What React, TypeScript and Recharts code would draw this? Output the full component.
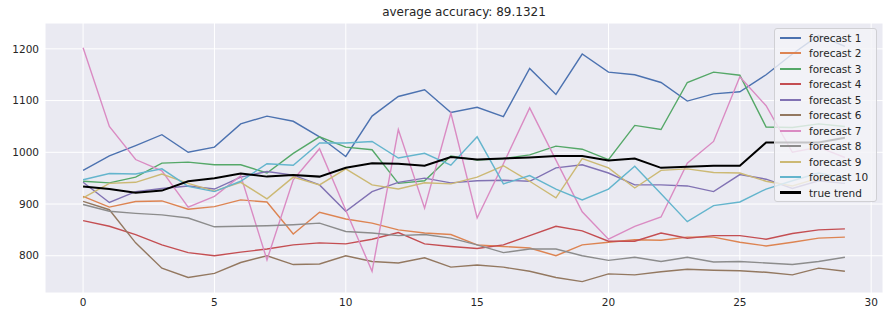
import React from 'react';
import { LineChart, Line, XAxis, YAxis, CartesianGrid, Legend } from 'recharts';

const steps = [0, 1, 2, 3, 4, 5, 6, 7, 8, 9, 10, 11, 12, 13, 14, 15, 16, 17, 18, 19, 20, 21, 22, 23, 24, 25, 26, 27, 28, 29];

const forecast1 = [965, 993, 1013, 1034, 1000, 1010, 1055, 1070, 1060, 1030, 992, 1070, 1108, 1121, 1077, 1087, 1069, 1162, 1112, 1190, 1155, 1150, 1135, 1099, 1113, 1117, 1150, 1190, 1226, 1205];
const forecast2 = [915, 894, 905, 906, 890, 895, 908, 904, 842, 884, 871, 863, 850, 844, 841, 821, 818, 815, 800, 821, 826, 831, 830, 836, 836, 826, 819, 826, 834, 836];
const forecast3 = [944, 941, 952, 979, 981, 976, 976, 960, 998, 1030, 1010, 1005, 940, 945, 993, 985, 988, 995, 1012, 1006, 986, 1052, 1044, 1135, 1155, 1149, 1049, 1048, 1055, 1050];
const forecast4 = [868, 857, 841, 821, 806, 800, 807, 813, 821, 825, 823, 832, 845, 823, 818, 814, 821, 839, 857, 848, 828, 828, 844, 834, 839, 839, 832, 843, 850, 852];
const forecast5 = [942, 903, 924, 930, 935, 929, 952, 963, 956, 937, 886, 924, 942, 950, 941, 945, 946, 944, 970, 976, 960, 937, 937, 935, 924, 957, 948, 930, 945, 940];
const forecast6 = [905, 889, 825, 776, 758, 766, 787, 800, 783, 784, 800, 789, 786, 796, 778, 782, 778, 770, 758, 750, 765, 763, 769, 774, 772, 771, 768, 763, 776, 770];
const forecast7 = [1202, 1050, 986, 964, 894, 915, 955, 792, 947, 1007, 888, 770, 1044, 892, 1076, 873, 978, 1086, 985, 885, 832, 857, 875, 979, 1021, 1146, 1090, 1000, 1010, 990];
const forecast8 = [899, 886, 882, 879, 873, 856, 857, 858, 860, 863, 847, 844, 839, 841, 834, 821, 806, 813, 813, 800, 791, 797, 789, 797, 788, 789, 786, 783, 789, 797];
const forecast9 = [912, 940, 942, 958, 940, 925, 942, 910, 952, 937, 968, 937, 929, 941, 939, 952, 974, 944, 912, 988, 970, 931, 965, 968, 961, 960, 944, 935, 950, 945];
const forecast10 = [947, 959, 958, 968, 934, 924, 944, 978, 975, 1018, 1018, 1021, 989, 998, 975, 1030, 939, 955, 929, 908, 929, 973, 920, 866, 897, 904, 929, 945, 960, 950];
const trueTrend = [934, 929, 922, 926, 944, 950, 959, 953, 956, 953, 970, 979, 978, 974, 991, 986, 988, 990, 993, 993, 984, 988, 970, 972, 974, 974, 1019, 1019, 1019, 1028];

const xTicks = [0, 5, 10, 15, 20, 25, 30];
const yTicks = [800, 900, 1000, 1100, 1200];

const seriesList = [
  { key: 'f1', name: 'forecast 1', values: forecast1, color: '#4C72B0' },
  { key: 'f2', name: 'forecast 2', values: forecast2, color: '#DD8452' },
  { key: 'f3', name: 'forecast 3', values: forecast3, color: '#55A868' },
  { key: 'f4', name: 'forecast 4', values: forecast4, color: '#C44E52' },
  { key: 'f5', name: 'forecast 5', values: forecast5, color: '#8172B3' },
  { key: 'f6', name: 'forecast 6', values: forecast6, color: '#937860' },
  { key: 'f7', name: 'forecast 7', values: forecast7, color: '#DA8BC3' },
  { key: 'f8', name: 'forecast 8', values: forecast8, color: '#8C8C8C' },
  { key: 'f9', name: 'forecast 9', values: forecast9, color: '#CCB974' },
  { key: 'f10', name: 'forecast 10', values: forecast10, color: '#64B5CD' },
  { key: 'truth', name: 'true trend', values: trueTrend, color: '#000000' },
];

const chartData = steps.map((s, i) => {
  const row: Record<string, number> = { step: s };
  seriesList.forEach((sr) => {
    row[sr.key] = sr.values[i];
  });
  return row;
});

const font = '"DejaVu Sans", sans-serif';

function LegendBox() {
  return (
    <div
      style={{
        boxSizing: 'border-box',
        width: 103,
        height: 174,
        background: 'rgba(244,244,248,0.8)',
        border: '1px solid #d0d0d4',
        borderRadius: 3,
        paddingTop: 1,
        fontFamily: font,
        fontSize: 10.5,
        color: '#262626',
      }}
    >
      {seriesList.map((sr) => (
        <div key={sr.key} style={{ display: 'flex', alignItems: 'center', height: 15.5 }}>
          <div
            style={{
              marginLeft: 5,
              width: 21,
              height: sr.key === 'truth' ? 3 : 2,
              background: sr.color,
            }}
          />
          <span style={{ marginLeft: 8, whiteSpace: 'nowrap' }}>{sr.name}</span>
        </div>
      ))}
    </div>
  );
}

export default function App() {
  return (
    <div style={{ position: 'absolute', left: 0, top: 0, width: 888, height: 321, background: '#fff' }}>
      <div
        style={{
          position: 'absolute',
          left: 45,
          top: 5,
          width: 838,
          textAlign: 'center',
          fontFamily: font,
          fontSize: 12,
          lineHeight: '14px',
          color: '#262626',
        }}
      >
        average accuracy: 89.1321
      </div>
      <LineChart width={888} height={321} data={chartData} margin={{ top: 23, right: 5, left: 0, bottom: 0 }}>
        <CartesianGrid fill="#EAEAF2" stroke="#ffffff" strokeWidth={1} />
        <XAxis
          dataKey="step"
          type="number"
          domain={[-1.45, 30.45]}
          ticks={xTicks}
          height={28}
          axisLine={false}
          tickLine={false}
          tickSize={0}
          tickMargin={6}
          tick={{ fontSize: 10.5, fill: '#262626', fontFamily: font }}
        />
        <YAxis
          type="number"
          domain={[728, 1250]}
          ticks={yTicks}
          width={45}
          axisLine={false}
          tickLine={false}
          tickSize={0}
          tickMargin={6}
          tick={{ fontSize: 10.5, fill: '#262626', fontFamily: font }}
        />
        {seriesList.map((sr) => (
          <Line
            key={sr.key}
            type="linear"
            dataKey={sr.key}
            name={sr.name}
            stroke={sr.color}
            strokeWidth={sr.key === 'truth' ? 2 : 1.4}
            dot={false}
            isAnimationActive={false}
          />
        ))}
        <Legend
          layout="vertical"
          align="center"
          verticalAlign="middle"
          wrapperStyle={{ left: 774, top: 28, width: 103, height: 174 }}
          content={() => <LegendBox />}
        />
      </LineChart>
    </div>
  );
}
